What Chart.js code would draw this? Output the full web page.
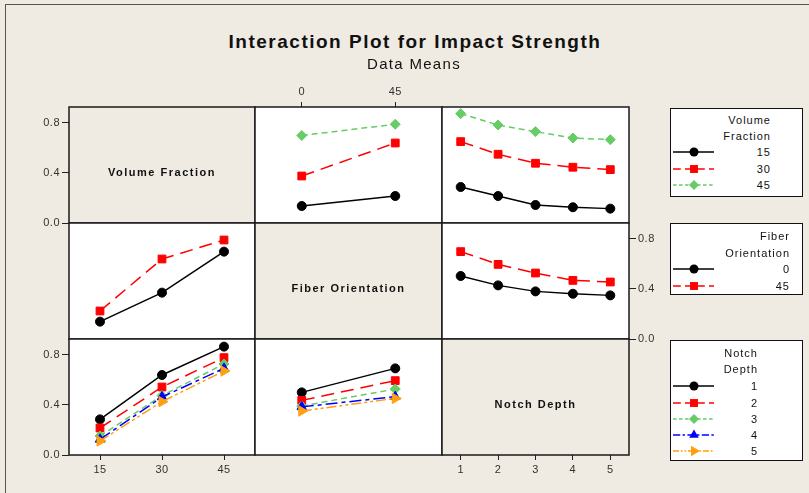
<!DOCTYPE html>
<html><head><meta charset="utf-8">
<script src="https://cdn.jsdelivr.net/npm/chart.js@4.4.1/dist/chart.umd.min.js"></script>
<style>
html,body{margin:0;padding:0;}
body{width:809px;height:493px;background:#EFEBE2;position:relative;overflow:hidden;font-family:"Liberation Sans",Arial,sans-serif;}
#frame{position:absolute;left:5px;top:4px;width:830px;height:520px;border:1.5px solid #555;box-sizing:border-box;}
.t{position:absolute;white-space:nowrap;color:#111;}
.box{position:absolute;background:#fff;border:1.5px solid #111;box-sizing:border-box;}
canvas{position:absolute;}
</style></head>
<body>
<div id="frame"></div>
<script>
// ---------- data ----------
const VF_LABELS = ['15','30','45'];
const FO_LABELS = ['0','45'];
const ND_LABELS = ['1','2','3','4','5'];
const Y_TICKS = [0, 0.4, 0.8];
const Y_MAX = 0.928;

// Row 1: traces = Volume Fraction
const VF15_BY_FO = [0.136, 0.216];
const VF30_BY_FO = [0.376, 0.640];
const VF45_BY_FO = [0.700, 0.790];
const VF15_BY_ND = [0.288, 0.216, 0.144, 0.126, 0.115];
const VF30_BY_ND = [0.651, 0.550, 0.478, 0.446, 0.427];
const VF45_BY_ND = [0.875, 0.784, 0.731, 0.680, 0.667];
// Row 2: traces = Fiber Orientation
const FO0_BY_VF  = [0.139, 0.371, 0.699];
const FO45_BY_VF = [0.224, 0.640, 0.792];
const FO0_BY_ND  = [0.504, 0.429, 0.381, 0.362, 0.349];
const FO45_BY_ND = [0.699, 0.597, 0.528, 0.469, 0.456];
// Row 3: traces = Notch Depth
const ND1_BY_VF = [0.285, 0.640, 0.867];
const ND2_BY_VF = [0.216, 0.544, 0.779];
const ND3_BY_VF = [0.152, 0.475, 0.728];
const ND4_BY_VF = [0.125, 0.464, 0.693];
const ND5_BY_VF = [0.112, 0.427, 0.672];
const ND1_BY_FO = [0.501, 0.693];
const ND2_BY_FO = [0.437, 0.595];
const ND3_BY_FO = [0.392, 0.528];
const ND4_BY_FO = [0.385, 0.467];
const ND5_BY_FO = [0.352, 0.453];

// ---------- styles ----------
const FONT = '"Liberation Sans", Arial, sans-serif';
const STY = [
  {color:'#000000', dash:[],            shape:'circle',   r:4.5, rot:0},
  {color:'#FF0000', dash:[13,7],        shape:'rect',     r:5.5, rot:0},
  {color:'#66CC66', dash:[6,4],         shape:'rectRot',  r:5,   rot:0},
  {color:'#0000FF', dash:[12,4,4,4],    shape:'triangle', r:5.5, rot:0},
  {color:'#FFA010', dash:[10,3,3,3,3,3],shape:'triangle', r:6,   rot:90}
];

const COLS = [69, 255, 442, 629];
const ROWS = [107, 223, 339, 455];
const M = 45;

const cellPlugin = {
  id:'cellbox',
  beforeDraw(chart, args, o){
    const {ctx, chartArea:a} = chart;
    ctx.save();
    ctx.fillStyle = o.fill;
    ctx.fillRect(a.left, a.top, a.right-a.left, a.bottom-a.top);
    ctx.restore();
    ctx.letterSpacing = '0.5px';
  },
  afterDraw(chart){
    const {ctx, chartArea:a} = chart;
    ctx.save();
    ctx.strokeStyle = '#1a1a1a'; ctx.lineWidth = 1.5;
    ctx.strokeRect(a.left, a.top, a.right-a.left, a.bottom-a.top);
    ctx.restore();
  }
};

function tickFont(){ return {size:11, family:FONT}; }

function yScale(pos){
  return {
    type:'linear', min:0, max:Y_MAX, display:!!pos, position:pos||'left',
    afterBuildTicks:s=>{ s.ticks = Y_TICKS.map(v=>({value:v})); },
    afterFit:s=>{ s.width = s.options.display ? M : 0; },
    ticks:{font:tickFont(), color:'#333', padding:2, callback:v=>Number(v).toFixed(1)},
    grid:{drawOnChartArea:false, drawTicks:true, tickLength:7, color:'#222', tickColor:'#222', lineWidth:1},
    border:{display:false}
  };
}
function xScale(labels, pos){
  return {
    type:'category', labels, offset:true, display:!!pos, position:pos||'bottom',
    afterFit:s=>{ s.height = s.options.display ? M : 0; },
    ticks:{font:tickFont(), color:'#333', padding:3, maxRotation:0, autoSkip:false},
    grid:{offset:false, drawOnChartArea:false, drawTicks:true, tickLength:5, color:'#222', tickColor:'#222', lineWidth:1},
    border:{display:false}
  };
}

function makeCell(r, c, o){
  const x = COLS[c], y = ROWS[r], w = COLS[c+1]-x, h = ROWS[r+1]-y;
  const cv = document.createElement('canvas');
  cv.width = w+2*M; cv.height = h+2*M;
  cv.style.left = (x-M)+'px'; cv.style.top = (y-M)+'px';
  document.body.appendChild(cv);
  const pad = {
    left: o.yPos==='left'?0:M, right: o.yPos==='right'?0:M,
    top: o.xPos==='top'?0:M, bottom: o.xPos==='bottom'?0:M
  };
  const datasets = (o.series||[]).map((d,k)=>{
    const s = STY[k];
    return {data:d, borderColor:s.color, backgroundColor:s.color, borderDash:s.dash, borderWidth:1.5,
      pointStyle:s.shape, pointRadius:s.r, pointRotation:s.rot, pointBorderWidth:1,
      pointBorderColor:s.color, pointBackgroundColor:s.color, tension:0, order:-k, clip:false};
  });
  new Chart(cv, {
    type:'line',
    data:{labels:o.labels, datasets},
    options:{
      responsive:false, animation:false, events:[],
      layout:{padding:pad},
      scales:{x:xScale(o.labels, o.xPos), y:yScale(o.yPos)},
      plugins:{legend:{display:false}, tooltip:{enabled:false}, cellbox:{fill:o.fill||'#FFFFFF'}}
    },
    plugins:[cellPlugin]
  });
  if (o.title){
    const t = document.createElement('div');
    t.className='t';
    t.style.cssText = `left:${x+w/2}px;top:${y+h/2+7}px;transform:translate(-50%,-50%);font-weight:bold;font-size:11px;letter-spacing:1.5px;color:#111;`;
    t.textContent = o.title;
    document.body.appendChild(t);
  }
}

const BEIGE = '#EFEBE2';
// Row 1
makeCell(0,0,{labels:VF_LABELS, yPos:'left', fill:BEIGE, title:'Volume Fraction'});
makeCell(0,1,{labels:FO_LABELS, xPos:'top', series:[VF15_BY_FO, VF30_BY_FO, VF45_BY_FO]});
makeCell(0,2,{labels:ND_LABELS, series:[VF15_BY_ND, VF30_BY_ND, VF45_BY_ND]});
// Row 2
makeCell(1,0,{labels:VF_LABELS, series:[FO0_BY_VF, FO45_BY_VF]});
makeCell(1,1,{labels:FO_LABELS, fill:BEIGE, title:'Fiber Orientation'});
makeCell(1,2,{labels:ND_LABELS, yPos:'right', series:[FO0_BY_ND, FO45_BY_ND]});
// Row 3
makeCell(2,0,{labels:VF_LABELS, xPos:'bottom', yPos:'left', series:[ND1_BY_VF, ND2_BY_VF, ND3_BY_VF, ND4_BY_VF, ND5_BY_VF]});
makeCell(2,1,{labels:FO_LABELS, series:[ND1_BY_FO, ND2_BY_FO, ND3_BY_FO, ND4_BY_FO, ND5_BY_FO]});
makeCell(2,2,{labels:ND_LABELS, xPos:'bottom', fill:BEIGE, title:'Notch Depth'});

// ---------- titles ----------
function text(str, x, y, css, anchor){
  const d = document.createElement('div');
  d.className='t';
  const tx = anchor==='right' ? '-100%' : (anchor==='left' ? '0' : '-50%');
  d.style.cssText = `left:${x}px;top:${y}px;transform:translate(${tx},-50%);`+css;
  d.textContent = str;
  document.body.appendChild(d);
}
text('Interaction Plot for Impact Strength', 415, 42, 'font-weight:bold;font-size:19px;letter-spacing:1.5px;color:#111;');
text('Data Means', 414, 63, 'font-size:15px;letter-spacing:1.3px;color:#111;');

// ---------- legends ----------
const SVGNS = 'http://www.w3.org/2000/svg';
function legend(box, titleLines, items, rightX){
  const b = document.createElement('div');
  b.className='box';
  b.style.left=box[0]+'px'; b.style.top=box[1]+'px';
  b.style.width=(box[2]-box[0])+'px'; b.style.height=(box[3]-box[1])+'px';
  document.body.appendChild(b);
  titleLines.forEach(tl=>text(tl[0], rightX, tl[1], 'font-size:11px;letter-spacing:1px;', 'right'));
  items.forEach((it,k)=>{
    text(it[0], rightX, it[1], 'font-size:11px;letter-spacing:1px;', 'right');
    const s = STY[k];
    const svg = document.createElementNS(SVGNS,'svg');
    svg.setAttribute('width', 50); svg.setAttribute('height', 16);
    svg.style.cssText = `position:absolute;left:670px;top:${it[1]-8}px;overflow:visible;`;
    const ln = document.createElementNS(SVGNS,'line');
    ln.setAttribute('x1',3); ln.setAttribute('x2',44); ln.setAttribute('y1',8); ln.setAttribute('y2',8);
    ln.setAttribute('stroke', s.color); ln.setAttribute('stroke-width',1.5);
    if (s.dash.length) ln.setAttribute('stroke-dasharray', s.dash.map(v=>v*0.6).join(' '));
    svg.appendChild(ln);
    const cx=24, cy=8;
    let m;
    if (s.shape==='circle'){ m=document.createElementNS(SVGNS,'circle'); m.setAttribute('cx',cx); m.setAttribute('cy',cy); m.setAttribute('r',s.r); }
    else {
      m=document.createElementNS(SVGNS,'polygon');
      let p;
      const r=s.r;
      if (s.shape==='rect'){ const a=r*0.72; p=[[cx-a,cy-a],[cx+a,cy-a],[cx+a,cy+a],[cx-a,cy+a]]; }
      else if (s.shape==='rectRot'){ p=[[cx-r,cy],[cx,cy-r],[cx+r,cy],[cx,cy+r]]; }
      else if (s.rot===90){ p=[[cx+r,cy],[cx-r*0.5,cy-r*0.87],[cx-r*0.5,cy+r*0.87]]; }
      else { p=[[cx,cy-r],[cx+r*0.87,cy+r*0.5],[cx-r*0.87,cy+r*0.5]]; }
      m.setAttribute('points', p.map(q=>q.join(',')).join(' '));
    }
    m.setAttribute('fill', s.color);
    svg.appendChild(m);
    document.body.appendChild(svg);
  });
}
legend([670,108,803,197], [['Volume',120],['Fraction',136]], [['15',152],['30',169],['45',185]], 771);
legend([670,223,803,295], [['Fiber',236],['Orientation',253]], [['0',269],['45',286]], 790);
legend([670,340,803,461], [['Notch',353],['Depth',369]], [['1',386],['2',403],['3',419],['4',435],['5',451]], 758);
</script>
</body></html>
